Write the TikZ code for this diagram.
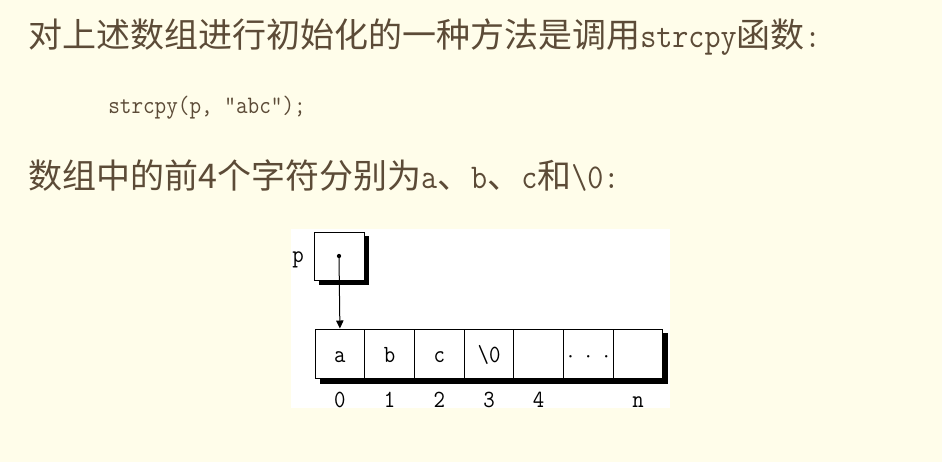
\documentclass[tikz,border=0pt]{standalone}
\usepackage{fontspec}
\usetikzlibrary{arrows.meta}
\newfontfamily\cjk{Noto Sans CJK SC}
\newfontfamily\mono[FakeStretch=0.9]{Latin Modern Mono}
\newcommand\bigmono[1]{{\mono\fontsize{26pt}{30pt}\selectfont #1}}
\definecolor{bg}{RGB}{255,253,234}
\definecolor{txt}{RGB}{92,75,55}
\begin{document}
\begin{tikzpicture}[x=0.75pt,y=-0.75pt,
  bigtext/.style={anchor=base west,inner sep=0pt,text=txt,font=\cjk\fontsize{25.5pt}{30pt}\selectfont},
  codetext/.style={anchor=base west,inner sep=0pt,text=txt,font=\mono\fontsize{18.8pt}{22pt}\selectfont},
  cell/.style={draw,line width=0.75pt,minimum width=37.3pt,minimum height=36.75pt,inner sep=0pt,
    text height=14.2pt,text depth=0pt,font=\mono\fontsize{18.5pt}{20pt}\selectfont},
  ptrbox/.style={draw,line width=0.75pt,minimum width=37.5pt,minimum height=36pt,inner sep=0pt},
  idx/.style={anchor=base,inner sep=0pt,font=\mono\fontsize{18.5pt}{20pt}\selectfont},
  shadowfill/.style={fill=black}]
\fill[bg] (0,0) rectangle (942,462);
\useasboundingbox (0,0) rectangle (942,462);

% text
\node[bigtext] (line1) at (28,47) {对上述数组进行初始化的一种方法是调用\bigmono{strcpy}函数\bigmono{:}};
\node[codetext] (code) at (108,113) {strcpy(p, "abc");};
\node[bigtext] (line3) at (28,188) {数组中的前4个字符分别为\bigmono{a}、\bigmono{b}、\bigmono{c}和\bigmono{\textbackslash 0:}};

% diagram panel
\fill[white] (291,229) rectangle (670,408);

% pointer box
\node[ptrbox] (pbox) at (339,256) {};
\fill[shadowfill] (364,236) rectangle (369,285);
\fill[shadowfill] (319,280) rectangle (369,285);
\node[idx] (plabel) at (298,262) {p};

% array cells
\node[cell] (c0) at (339.9,353.5) {a};
\node[cell] (c1) at (389.6,353.5) {b};
\node[cell] (c2) at (439.3,353.5) {c};
\node[cell] (c3) at (489.0,353.5) {\textbackslash 0};
\node[cell] (c4) at (538.7,353.5) {};
\node[cell] (c5) at (588.4,353.5) {$\cdot\mkern5mu\cdot\mkern5mu\cdot$};
\node[cell] (c6) at (638.1,353.5) {};
\fill[shadowfill] (320,378) rectangle (668,384);
\fill[shadowfill] (663,333) rectangle (668,384);

% indices
\node[idx] (i0) at (339.9,407) {0};
\node[idx] (i1) at (389.6,407) {1};
\node[idx] (i2) at (439.3,407) {2};
\node[idx] (i3) at (489.0,407) {3};
\node[idx] (i4) at (538.7,407) {4};
\node[idx] (in) at (638.1,407) {n};

% pointer
\fill (pbox.center) circle[radius=1.6pt];
\draw[line width=0.75pt,-{Triangle[length=6pt,width=5.5pt]}] (pbox.center) -- (c0.north);
\end{tikzpicture}
\end{document}
